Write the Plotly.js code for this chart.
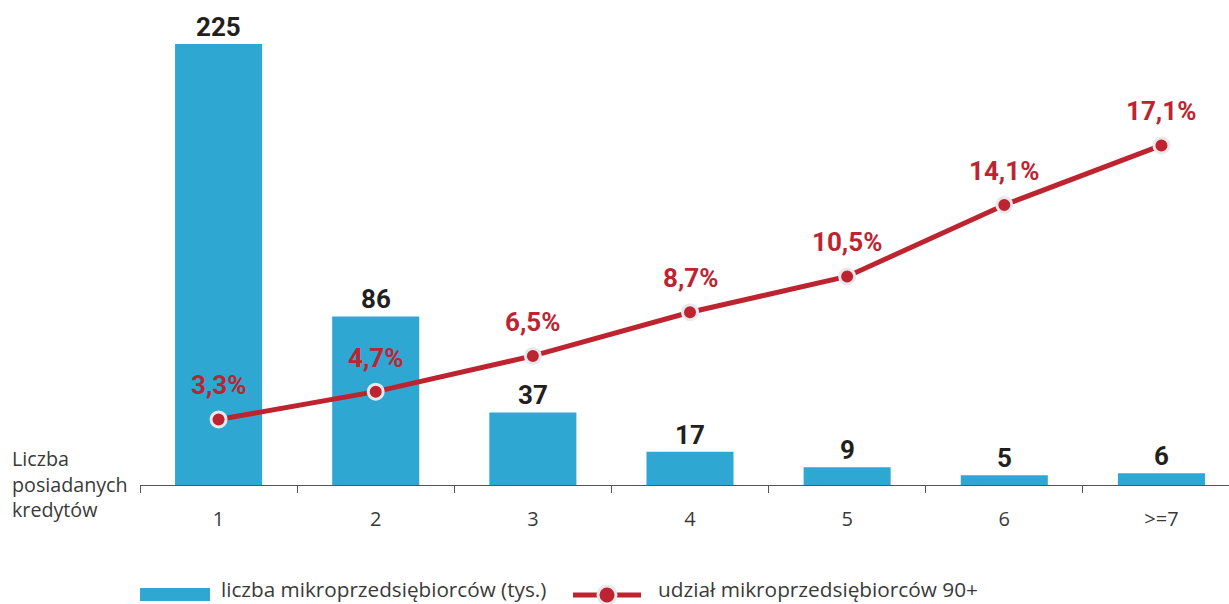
<!DOCTYPE html>
<html>
<head>
<meta charset="utf-8">
<script src="https://cdn.plot.ly/plotly-3.0.1.min.js"></script>
<style>html,body{margin:0;padding:0;background:#fff;}#chart{width:1229px;height:604px;}</style>
</head>
<body>
<div id="chart"></div>
<script>
const categories = ['1', '2', '3', '4', '5', '6', '>=7'];
const firmCounts = [225, 86, 37, 17, 9, 5, 6];
const share90 = [3.3, 4.7, 6.5, 8.7, 10.5, 14.1, 17.1];
const barName = 'liczba mikroprzedsiębiorców (tys.)';
const lineName = 'udział mikroprzedsiębiorców 90+';
const axisNote = 'Liczba<br>posiadanych<br>kredytów';

const BLUE = '#2ea8d2', RED = '#be2430', DARK = '#231f20', GRAY = '#3a3a3a';
const numFont = 'Roboto, "DejaVu Sans", sans-serif';
const txtFont = '"Open Sans", "Noto Sans", sans-serif';

const fmt = v => v.toFixed(1).replace('.', ',') + '%';

const bars = {
  type: 'bar', x: categories, y: firmCounts, name: barName,
  marker: {color: BLUE}, hoverinfo: 'skip', showlegend: false
};
const line = {
  type: 'scatter', mode: 'lines+markers', x: categories, y: share90, yaxis: 'y2',
  name: lineName, line: {color: RED, width: 5},
  marker: {color: RED, size: 15, line: {color: '#e8e8ec', width: 3}},
  cliponaxis: false, hoverinfo: 'skip', showlegend: false
};

const annotations = [];
categories.forEach((c, i) => {
  annotations.push({x: i, y: firmCounts[i], xref: 'x', yref: 'y', text: String(firmCounts[i]),
    showarrow: false, yanchor: 'bottom', yshift: 0,
    font: {family: numFont, size: 26, color: DARK, weight: 'bold'}});
  annotations.push({x: i, y: share90[i], xref: 'x', yref: 'y2', text: fmt(share90[i]),
    showarrow: false, yanchor: 'middle', yshift: 34,
    font: {family: numFont, size: 26, color: RED, weight: 'bold'}});
});

// helpers for pixel-positioned legend/annotations
const L = 140, W = 1089, T = 15, H = 470;
const px = x => (x - L) / W;
const py = y => (T + H - y) / H;

annotations.push({xref: 'paper', yref: 'paper', x: px(10), y: py(484), xanchor: 'left', yanchor: 'middle',
  align: 'left', text: axisNote, showarrow: false, font: {family: txtFont, size: 19.7, color: GRAY}});
annotations.push({xref: 'paper', yref: 'paper', x: px(219), y: py(589), xanchor: 'left', yanchor: 'middle',
  text: barName, showarrow: false, font: {family: txtFont, size: 20.7, color: GRAY}});
annotations.push({xref: 'paper', yref: 'paper', x: px(656), y: py(589), xanchor: 'left', yanchor: 'middle',
  text: lineName, showarrow: false, font: {family: txtFont, size: 20.8, color: GRAY}});

const shapes = [
  {type: 'rect', xref: 'paper', yref: 'paper', x0: px(140), x1: px(210), y0: py(601), y1: py(588),
   fillcolor: BLUE, line: {width: 0}},
  {type: 'line', xref: 'paper', yref: 'paper', x0: px(573), x1: px(641), y0: py(595), y1: py(595),
   line: {color: RED, width: 5}},
  {type: 'circle', xref: 'paper', yref: 'paper', xsizemode: 'pixel', ysizemode: 'pixel',
   xanchor: px(607), yanchor: py(595), x0: -9, x1: 9, y0: -9, y1: 9,
   fillcolor: RED, line: {color: '#e8e8ec', width: 3}}
];

const layout = {
  width: 1229, height: 604,
  margin: {l: L, r: 0, t: T, b: 604 - T - H},
  paper_bgcolor: '#fff', plot_bgcolor: '#fff',
  bargap: 0.446,
  showlegend: false,
  xaxis: {
    type: 'category', range: [-0.5, 6.43], showgrid: false, zeroline: false,
    showline: true, linecolor: '#555', linewidth: 1,
    ticks: 'outside', tickson: 'boundaries', ticklen: 7, tickcolor: '#555', tickwidth: 1,
    ticklabelstandoff: 16,
    tickfont: {family: txtFont, size: 20, color: GRAY}, fixedrange: true
  },
  yaxis: {range: [0, H / 1.96], visible: false, showgrid: false, zeroline: false, fixedrange: true},
  yaxis2: {range: [0, H / 19.86], overlaying: 'y', visible: false, showgrid: false, zeroline: false, fixedrange: true},
  annotations: annotations,
  shapes: shapes
};

Plotly.newPlot('chart', [bars, line], layout, {displayModeBar: false, staticPlot: true});
</script>
</body>
</html>
